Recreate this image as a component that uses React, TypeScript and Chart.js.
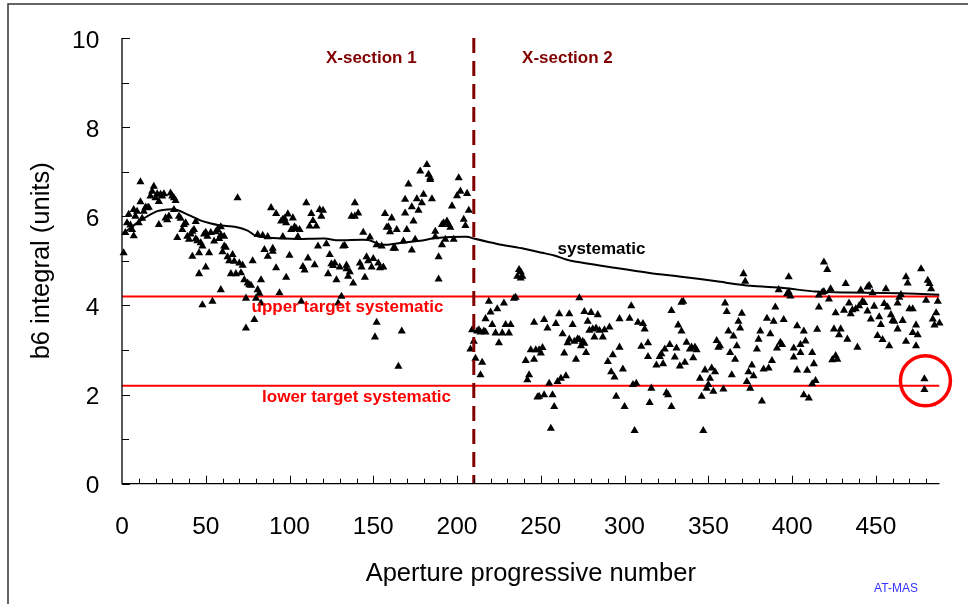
import React, { useEffect, useRef } from 'react';
import { Chart, registerables } from 'chart.js';

Chart.register(...registerables);

type Pt = [number, number];

// axis limits and reference levels
const X_MAX = 488;
const SECTION_BOUNDARY = 210;
const UPPER_TARGET = 4.2;
const LOWER_TARGET = 2.2;

// [aperture number, b6 integral], cross-section 1
const section1Points: Pt[] = [
  [1, 5.18], [2, 5.63], [3, 5.85], [4, 6.04], [5, 5.8], [6, 5.7], [7, 5.56], [7, 6.15], [8, 6.0], [9, 6.11],
  [10, 5.85], [11, 6.77], [11, 6.32], [12, 5.95], [13, 6.11], [14, 6.2], [15, 6.19], [16, 6.2], [17, 6.45], [18, 6.56],
  [19, 6.67], [20, 6.41], [21, 6.5], [22, 6.33], [22, 5.81], [23, 6.49], [24, 6.45], [25, 6.5], [26, 5.96], [27, 5.92],
  [28, 6.0], [29, 6.52], [30, 6.45], [31, 6.41], [31, 6.15], [32, 6.35], [33, 5.52], [34, 6.0], [35, 5.95], [36, 5.7],
  [37, 5.81], [38, 5.85], [39, 5.55], [40, 5.48], [41, 5.6], [42, 5.66], [42, 5.1], [43, 5.7], [44, 5.49], [44, 5.88],
  [45, 5.45], [46, 4.71], [46, 5.18], [47, 5.4], [48, 5.33], [48, 4.01], [49, 5.6], [50, 5.64], [50, 4.86], [51, 5.55],
  [52, 5.18], [53, 5.63], [54, 4.09], [55, 5.44], [56, 5.65], [57, 5.7], [58, 5.5], [59, 5.76], [59, 5.58], [59, 4.35],
  [60, 5.2], [61, 5.55], [61, 5.33], [62, 5.3], [63, 5.09], [64, 5.0], [65, 4.71], [66, 5.14], [67, 4.99], [68, 4.71],
  [69, 6.41], [70, 4.95], [71, 4.73], [72, 4.9], [73, 4.57], [74, 4.16], [74, 3.49], [75, 4.5], [76, 4.46], [77, 4.45],
  [78, 5.0], [79, 3.68], [80, 4.16], [81, 5.59], [81, 4.35], [82, 4.27], [83, 4.05], [83, 4.57], [84, 5.57], [85, 5.25],
  [87, 5.54], [87, 5.1], [89, 6.19], [90, 5.21], [90, 5.28], [92, 4.84], [92, 6.06], [94, 4.28], [95, 5.89], [96, 5.93],
  [96, 5.54], [97, 5.95], [98, 4.63], [98, 5.85], [99, 6.05], [100, 5.12], [101, 5.7], [102, 5.96], [103, 5.76], [104, 5.72],
  [105, 5.54], [106, 5.7], [107, 4.09], [108, 4.87], [109, 4.79], [110, 6.3], [111, 5.06], [112, 5.78], [113, 6.06], [114, 5.9],
  [115, 4.91], [116, 5.78], [117, 5.33], [118, 6.15], [119, 6.0], [120, 6.13], [122, 5.38], [123, 4.71], [124, 5.14], [125, 4.93],
  [126, 4.89], [127, 4.95], [128, 4.57], [129, 4.05], [130, 4.86], [131, 4.2], [132, 5.33], [133, 5.34], [134, 4.82], [134, 4.9],
  [135, 4.65], [136, 4.75], [137, 6.0], [138, 4.5], [139, 6.0], [139, 6.3], [141, 6.07], [142, 4.95], [143, 4.86], [144, 5.64],
  [145, 4.63], [146, 5.09], [147, 5.0], [148, 5.53], [149, 4.86], [150, 5.05], [151, 3.29], [152, 3.62], [152, 5.36], [153, 4.95],
  [154, 4.84], [155, 5.33], [156, 4.86], [157, 6.06], [158, 5.75], [159, 5.76], [160, 5.65], [161, 5.96], [162, 5.28], [163, 5.28],
  [164, 5.7], [165, 2.63], [167, 3.42], [168, 5.44], [169, 6.07], [169, 6.38], [170, 5.7], [171, 6.72], [173, 6.21], [173, 5.24],
  [174, 5.89], [175, 5.48], [176, 6.39], [177, 6.13], [178, 7.01], [179, 6.3], [180, 6.49], [182, 7.16], [183, 6.94], [184, 6.82],
  [184, 6.86], [185, 6.39], [187, 5.66], [187, 5.54], [189, 5.09], [189, 4.59], [191, 5.36], [191, 5.81], [192, 5.85], [193, 5.48],
  [194, 5.89], [195, 5.81], [196, 5.75], [197, 6.23], [198, 5.48], [200, 6.46], [201, 6.86], [202, 6.56], [204, 5.93], [205, 5.79],
  [206, 6.51], [207, 6.13],
];

// cross-section 2
const section2Points: Pt[] = [
  [208, 3.02], [209, 3.45], [210, 3.19], [211, 2.81], [212, 3.42], [213, 3.45], [214, 2.44], [214, 3.4], [215, 2.72], [216, 3.42],
  [217, 3.4], [217, 3.7], [219, 4.09], [220, 3.85], [221, 3.57], [223, 3.38], [224, 3.92], [225, 3.16], [227, 3.38], [228, 4.05],
  [229, 3.57], [231, 3.38], [232, 3.57], [234, 4.16], [235, 4.18], [236, 4.65], [237, 4.8], [238, 4.61], [238, 4.75], [239, 4.65],
  [241, 2.76], [242, 2.33], [243, 2.44], [244, 3.0], [246, 2.79], [246, 3.62], [247, 3.0], [248, 1.94], [249, 3.0], [249, 1.96],
  [250, 2.93], [251, 3.05], [252, 1.99], [252, 3.68], [254, 3.49], [255, 2.25], [256, 1.24], [257, 1.99], [258, 1.73], [259, 3.59],
  [260, 2.29], [261, 3.81], [262, 2.36], [263, 3.36], [264, 2.93], [265, 2.42], [266, 3.16], [267, 3.81], [267, 3.24], [269, 3.57],
  [270, 3.19], [271, 2.79], [272, 3.25], [273, 3.23], [273, 4.17], [274, 3.09], [275, 3.19], [276, 3.86], [276, 3.15], [277, 2.94],
  [278, 3.64], [279, 3.44], [280, 3.84], [281, 3.47], [282, 3.29], [283, 3.49], [284, 3.79], [285, 3.44], [287, 3.29], [288, 3.45],
  [290, 2.74], [291, 3.51], [292, 2.51], [293, 2.89], [294, 2.39], [295, 1.96], [297, 3.06], [297, 3.7], [299, 2.57], [300, 1.73],
  [303, 3.71], [304, 3.99], [305, 2.22], [306, 1.19], [307, 2.25], [308, 3.62], [310, 3.08], [311, 3.59], [312, 3.47], [314, 3.16],
  [314, 2.85], [315, 1.82], [316, 2.14], [319, 2.66], [321, 2.85], [322, 2.91], [323, 2.69], [324, 3.02], [325, 2.04], [326, 1.99],
  [327, 3.12], [328, 3.88], [328, 1.73], [330, 2.84], [331, 3.04], [332, 3.56], [333, 2.64], [334, 4.07], [334, 3.42], [335, 4.09],
  [336, 2.72], [337, 3.17], [339, 3.02], [340, 3.06], [341, 2.82], [342, 3.06], [343, 3.0], [345, 2.36], [346, 1.96], [347, 1.19],
  [348, 2.55], [349, 2.14], [350, 2.22], [351, 2.36], [352, 2.59], [353, 2.07], [354, 2.51], [355, 3.21], [356, 3.06], [357, 3.09],
  [359, 2.12], [360, 4.05], [361, 3.86], [362, 3.42], [363, 2.94], [364, 2.44], [365, 3.31], [366, 2.79], [367, 3.09], [368, 3.64],
  [369, 3.49], [370, 3.82], [371, 4.71], [372, 4.54], [373, 2.29], [374, 2.51], [375, 2.14], [376, 2.66], [377, 2.42], [379, 3.02],
  [380, 3.24], [381, 3.42], [382, 1.85], [383, 2.57], [385, 3.71], [386, 2.59], [387, 3.36], [388, 2.76], [389, 3.64], [390, 3.96],
  [391, 3.04], [392, 4.35], [393, 3.17], [394, 3.12], [395, 3.68], [397, 4.26], [398, 4.3], [398, 4.64], [399, 4.21], [401, 3.04],
  [401, 2.84], [403, 2.55], [403, 3.54], [405, 3.12], [405, 2.94], [407, 1.99], [407, 3.42], [408, 3.2], [409, 2.54], [410, 1.92],
  [412, 2.94], [412, 2.24], [413, 2.69], [414, 2.31], [415, 3.46], [416, 3.96], [416, 4.23], [418, 4.29], [419, 4.31], [419, 4.97],
  [421, 4.8], [422, 4.14], [423, 4.37], [424, 2.78], [425, 3.47], [426, 2.87], [426, 3.83], [427, 2.79], [428, 3.34], [429, 3.47],
  [431, 3.89], [432, 4.49], [433, 3.24], [434, 4.05], [435, 3.81], [436, 3.9], [438, 3.92], [439, 3.06], [440, 3.99], [441, 4.34],
  [442, 4.09], [443, 4.06], [445, 4.41], [445, 3.87], [446, 4.45], [447, 3.69], [448, 4.28], [449, 3.98], [451, 3.32], [452, 3.74],
  [453, 3.57], [454, 3.23], [455, 4.04], [456, 4.37], [457, 3.96], [458, 3.09], [459, 3.79], [460, 3.66], [461, 3.64], [463, 4.05],
  [463, 3.47], [464, 4.18], [465, 4.24], [466, 3.66], [468, 3.19], [468, 4.64], [469, 4.5], [470, 3.92], [472, 3.92], [472, 3.39],
  [474, 3.56], [474, 3.09], [475, 3.34], [477, 4.82], [479, 2.35], [479, 2.11], [480, 4.11], [481, 4.56], [482, 4.49], [483, 4.37],
  [484, 3.69], [485, 3.56], [486, 3.83], [487, 4.09], [488, 3.6],
];

// running systematic value
const systematicCurve: Pt[] = [
  [0, 5.59], [3, 5.68], [10, 5.88], [20, 6.1], [27, 6.15], [32, 6.15], [38, 6.06], [46, 5.92], [52, 5.85], [58, 5.8],
  [68, 5.76], [75, 5.68], [80, 5.56], [90, 5.51], [105, 5.49], [121, 5.5], [129, 5.46], [147, 5.47], [155, 5.36], [166, 5.4],
  [178, 5.45], [187, 5.51], [206, 5.54], [210, 5.5], [224, 5.38], [240, 5.27], [251, 5.18], [258, 5.12], [268, 5.0], [295, 4.84],
  [315, 4.73], [335, 4.64], [355, 4.54], [375, 4.44], [395, 4.39], [414, 4.31], [434, 4.29], [454, 4.28], [474, 4.26], [488, 4.24],
];

// aperture circled in red
const flaggedAperture: Pt[] = [[479.6, 2.31]];

const FONT = '"Liberation Sans", Arial, Helvetica, sans-serif';
const DARK_RED = '#800000';
const RED = '#ff0000';

const notes = [
  { text: 'X-section 1', x: 148.8, y: 9.55, color: DARK_RED },
  { text: 'X-section 2', x: 265.9, y: 9.55, color: DARK_RED },
  { text: 'systematic', x: 286.2, y: 5.27, color: '#000' },
  { text: 'upper target systematic', x: 134.6, y: 3.95, color: RED },
  { text: 'lower target systematic', x: 140.0, y: 1.93, color: RED },
];

const toXY = (pts: Pt[]) => pts.map(([x, y]) => ({ x, y }));

const decorPlugin = {
  id: 'decor',
  beforeDraw(chart: any) {
    const { ctx, width, height } = chart;
    ctx.save();
    ctx.fillStyle = '#fff';
    ctx.fillRect(0, 0, width, height);
    ctx.restore();
  },
  afterDatasetsDraw(chart: any) {
    const { ctx, chartArea, scales } = chart;
    const xs = scales.x;
    const ys = scales.y;
    ctx.save();
    // axis lines
    ctx.strokeStyle = '#000';
    ctx.lineWidth = 1.3;
    ctx.beginPath();
    ctx.moveTo(chartArea.left, chartArea.top);
    ctx.lineTo(chartArea.left, chartArea.bottom);
    ctx.lineTo(chartArea.right, chartArea.bottom);
    ctx.stroke();
    // inside tick marks
    ctx.lineWidth = 1;
    ctx.beginPath();
    for (let v = 0; v <= 10; v++) {
      const y = Math.round(ys.getPixelForValue(v)) + 0.5;
      ctx.moveTo(chartArea.left, y);
      ctx.lineTo(chartArea.left + (v % 2 === 0 ? 8 : 7), y);
    }
    for (let v = 10; v <= 480; v += 10) {
      const x = Math.round(xs.getPixelForValue(v)) + 0.5;
      ctx.moveTo(x, chartArea.bottom);
      ctx.lineTo(x, chartArea.bottom - (v % 50 === 0 ? 8 : 5));
    }
    ctx.stroke();
    // text notes
    ctx.font = `bold 17px ${FONT}`;
    ctx.textAlign = 'center';
    ctx.textBaseline = 'middle';
    notes.forEach((n) => {
      ctx.fillStyle = n.color;
      ctx.fillText(n.text, xs.getPixelForValue(n.x), ys.getPixelForValue(n.y));
    });
    ctx.restore();
  },
  afterDraw(chart: any) {
    const { ctx, width, height } = chart;
    ctx.save();
    ctx.strokeStyle = '#333';
    ctx.lineWidth = 1.5;
    ctx.beginPath();
    ctx.moveTo(8, height);
    ctx.lineTo(8, 4);
    ctx.lineTo(width, 4);
    ctx.stroke();
    ctx.font = `12px ${FONT}`;
    ctx.fillStyle = '#3333ff';
    ctx.textAlign = 'center';
    ctx.textBaseline = 'middle';
    ctx.fillText('AT-MAS', 896, 589);
    ctx.restore();
  },
};

const App: React.FC = () => {
  const chartRef = useRef<HTMLCanvasElement>(null);
  const chartInstance = useRef<Chart | null>(null);

  useEffect(() => {
    if (!chartRef.current) return;
    if (chartInstance.current) chartInstance.current.destroy();

    const tickFont = { family: FONT, size: 24.5 };
    const titleFont = { family: FONT, size: 25.5 };
    const markers = {
      showLine: false,
      pointStyle: 'triangle' as const,
      pointRadius: 4.7,
      pointBackgroundColor: '#000',
      pointBorderWidth: 0,
      clip: false as const,
    };

    chartInstance.current = new Chart(chartRef.current, {
      type: 'scatter',
      data: {
        datasets: [
          {
            label: 'flagged',
            data: toXY(flaggedAperture),
            pointStyle: 'circle',
            pointRadius: 25,
            pointBorderWidth: 3.5,
            pointBorderColor: RED,
            pointBackgroundColor: 'rgba(0,0,0,0)',
            clip: false,
          },
          {
            label: 'boundary',
            data: [{ x: SECTION_BOUNDARY, y: 10 }, { x: SECTION_BOUNDARY, y: 0 }],
            showLine: true,
            pointRadius: 0,
            borderColor: DARK_RED,
            borderWidth: 3,
            borderDash: [15, 8],
          },
          {
            label: 'systematic',
            data: toXY(systematicCurve),
            showLine: true,
            pointRadius: 0,
            borderColor: '#000',
            borderWidth: 2,
            tension: 0.25,
          },
          { label: 'X-section 1', data: toXY(section1Points), ...markers },
          { label: 'X-section 2', data: toXY(section2Points), ...markers },
          {
            label: 'upper target',
            data: [{ x: 0, y: UPPER_TARGET }, { x: X_MAX, y: UPPER_TARGET }],
            showLine: true,
            pointRadius: 0,
            borderColor: RED,
            borderWidth: 2,
          },
          {
            label: 'lower target',
            data: [{ x: 0, y: LOWER_TARGET }, { x: X_MAX, y: LOWER_TARGET }],
            showLine: true,
            pointRadius: 0,
            borderColor: RED,
            borderWidth: 2,
          },
        ],
      },
      options: {
        responsive: true,
        maintainAspectRatio: false,
        animation: false,
        events: [],
        layout: { padding: { top: 38, right: 27, left: 0, bottom: 0 } },
        plugins: {
          legend: { display: false },
          tooltip: { enabled: false },
        },
        scales: {
          x: {
            type: 'linear',
            min: 0,
            max: X_MAX,
            afterFit: (s: any) => {
              s.height = 120.3;
            },
            grid: { display: false, drawTicks: false },
            border: { display: false },
            ticks: {
              stepSize: 50,
              includeBounds: false,
              autoSkip: false,
              maxRotation: 0,
              padding: 29.3,
              color: '#000',
              font: tickFont,
            },
            title: {
              display: true,
              text: 'Aperture progressive number',
              color: '#000',
              font: titleFont,
              padding: { top: 0, bottom: 15.1 },
            },
          },
          y: {
            type: 'linear',
            min: 0,
            max: 10,
            afterFit: (s: any) => {
              s.width = 122;
            },
            grid: { display: false, drawTicks: false },
            border: { display: false },
            ticks: {
              stepSize: 2,
              padding: 22.7,
              labelOffset: 3,
              color: '#000',
              font: tickFont,
            },
            title: {
              display: true,
              text: 'b6 integral (units)',
              color: '#000',
              font: titleFont,
              padding: { top: 27, bottom: 0 },
            },
          },
        },
      },
      plugins: [decorPlugin],
    });

    return () => {
      if (chartInstance.current) {
        chartInstance.current.destroy();
        chartInstance.current = null;
      }
    };
  }, []);

  return (
    <div style={{ position: 'absolute', left: 0, top: 0, width: 968, height: 604, background: '#fff' }}>
      <canvas ref={chartRef} />
    </div>
  );
};

export default App;
